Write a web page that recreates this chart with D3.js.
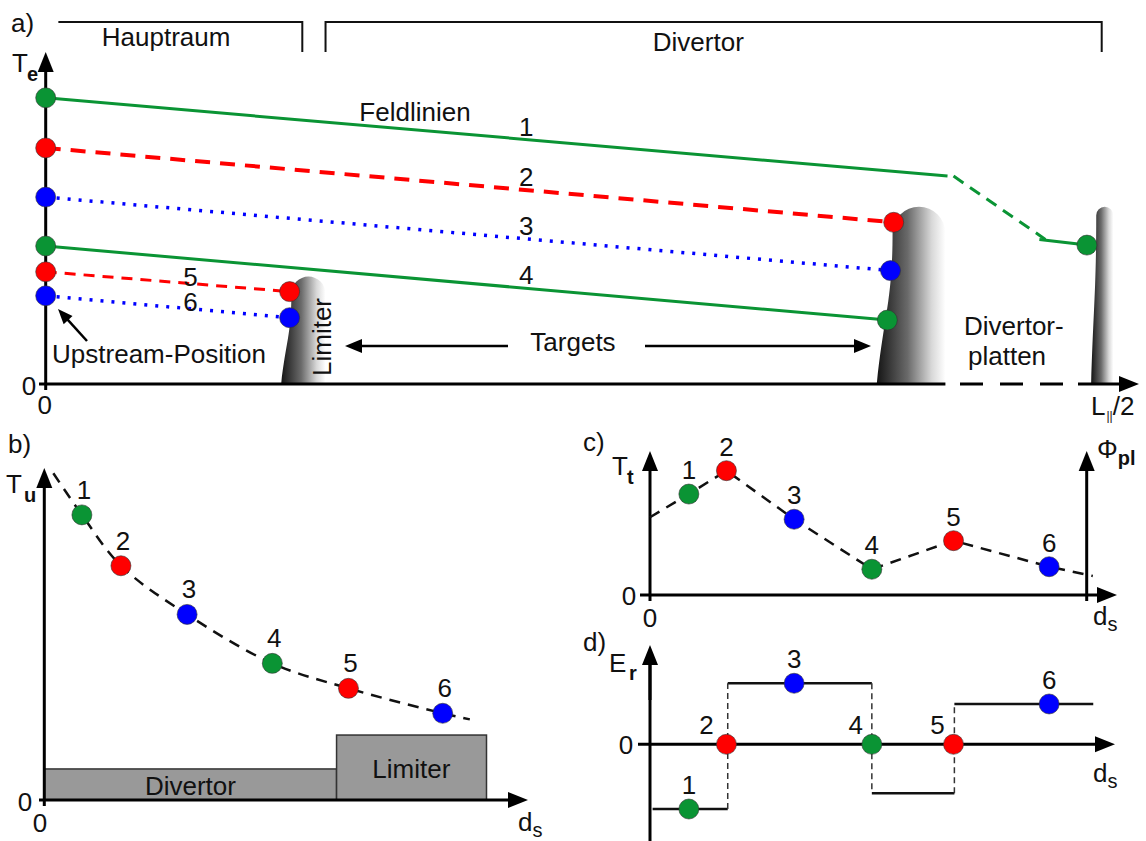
<!DOCTYPE html>
<html>
<head>
<meta charset="utf-8">
<script src="https://cdn.jsdelivr.net/npm/d3@7"></script>
<style>
  body { margin: 0; background: #fff; }
  text { font-family: Arial, "Liberation Sans", sans-serif; fill: #111; }
</style>
</head>
<body>
<svg id="chart" width="1146" height="841"></svg>
<script>
'use strict';

// ---------- data ----------
// a) T_e along the field lines, s = fraction of L||/2
const fieldLineIds = [1, 2, 3, 4, 5, 6];
const fieldLineS = [[0, 0.854], [0, 0.803], [0, 0.800], [0, 0.797], [0, 0.231], [0, 0.231]];
const fieldLineT = [[0.954, 0.693], [0.787, 0.539], [0.623, 0.378], [0.460, 0.213], [0.374, 0.308], [0.294, 0.221]];
// line 1 runs on past the first target to the far divertor plate
const line1TailS = [0.854, 0.941, 0.986];
const line1TailT = [0.693, 0.482, 0.463];
const plateNames = ['Limiter', 'Target', 'Divertorplatte'];
const plateS = [[0.223, 0.265], [0.787, 0.852], [0.990, 1.011]];
const plateTop = [0.358, 0.591, 0.591];

// b) upstream temperature vs. d_s
const bDs = [0.079, 0.161, 0.300, 0.479, 0.639, 0.837];
const bTu = [0.891, 0.732, 0.580, 0.427, 0.349, 0.271];
const bCurveDs = [0.019, 0.079, 0.161, 0.300, 0.479, 0.639, 0.837, 0.894];
const bCurveTu = [1.021, 0.891, 0.732, 0.580, 0.427, 0.349, 0.271, 0.252];
const bRegions = ['Divertor', 'Limiter'];
const bRegionDs = [[0, 0.614], [0.614, 0.929]];
const bRegionH = [0.097, 0.203];

// c) target temperature, d) radial field — shared d_s positions
const cdDs = [0.089, 0.175, 0.330, 0.508, 0.695, 0.914];
const cTt = [0.721, 0.888, 0.541, 0.184, 0.388, 0.202];
const cLineDs = [0, 0.089, 0.175, 0.330, 0.508, 0.695, 0.914, 1.014];
const cLineTt = [0.555, 0.721, 0.888, 0.541, 0.184, 0.388, 0.202, 0.136];
const dEr = [-0.809, 0, 0.763, 0, 0, 0.504];
const dStepDs = [0.006, 0.178, 0.508, 0.697, 1.015];
const dStepEr = [-0.809, 0.763, -0.613, 0.504];

// ---------- styles ----------
const GREEN = '#0a9434', RED = '#ff0000', BLUE = '#0000ff';
const pointColors = [GREEN, RED, BLUE, GREEN, RED, BLUE];
const lineStyles = [
  { color: GREEN, width: 3, dash: null },
  { color: RED, width: 4, dash: '15,10' },
  { color: BLUE, width: 3.5, dash: '3,8' },
  { color: GREEN, width: 3, dash: null },
  { color: RED, width: 3, dash: '11,8' },
  { color: BLUE, width: 3.5, dash: '3,8' }
];
const FS = 26;

const svg = d3.select('#chart');

const defs = svg.append('defs');
const grad = defs.append('linearGradient').attr('id', 'plateGrad')
  .attr('x1', 0).attr('x2', 1).attr('y1', 0).attr('y2', 0);
grad.append('stop').attr('offset', 0).attr('stop-color', '#151515');
grad.append('stop').attr('offset', 0.45).attr('stop-color', '#6a6a6a');
grad.append('stop').attr('offset', 0.8).attr('stop-color', '#d8d8d8');
grad.append('stop').attr('offset', 1).attr('stop-color', '#ffffff');

// line + filled triangular head
function arrow(g, x1, y1, x2, y2, w, len, half) {
  const a = Math.atan2(y2 - y1, x2 - x1);
  const bx = x2 - len * Math.cos(a), by = y2 - len * Math.sin(a);
  g.append('line').attr('x1', x1).attr('y1', y1).attr('x2', bx + Math.cos(a)).attr('y2', by + Math.sin(a))
    .attr('stroke', '#000').attr('stroke-width', w);
  const px = -Math.sin(a) * half, py = Math.cos(a) * half;
  g.append('polygon')
    .attr('points', [[x2, y2], [bx + px, by + py], [bx - px, by - py]].map(p => p.join(',')).join(' '))
    .attr('fill', '#000');
}

function label(g, x, y, txt, opts) {
  opts = opts || {};
  return g.append('text').attr('x', x).attr('y', y)
    .attr('text-anchor', opts.anchor || 'middle')
    .attr('font-size', opts.size || FS)
    .text(txt);
}

// symbol with subscript, e.g. T_e
function symbol(g, x, y, main, sub, subX, subY, bold) {
  label(g, x, y, main, { anchor: 'start' });
  g.append('text').attr('x', subX).attr('y', subY).attr('font-size', 20)
    .attr('font-weight', bold ? 'bold' : 'normal').text(sub);
}

function dsLabel(g, x, y) {
  const t = g.append('text').attr('x', x).attr('y', y).attr('font-size', FS);
  t.append('tspan').text('d');
  t.append('tspan').attr('font-size', 20).attr('dy', 6).text('s');
}

function dot(g, x, y, color) {
  g.append('circle').attr('cx', x).attr('cy', y).attr('r', 10)
    .attr('fill', color).attr('stroke', '#333').attr('stroke-width', 0.6);
}

// ================= a) =================
const ga = svg.append('g');
const xA = d3.scaleLinear().domain([0, 1]).range([45.7, 1101.7]);
const yA = d3.scaleLinear().domain([0, 1]).range([384, 84]);

label(ga, 11, 32, 'a)', { anchor: 'start' });

// region brackets
ga.append('path').attr('d', `M${xA(0.012)},22 H${xA(0.243)} V52`)
  .attr('fill', 'none').attr('stroke', '#111').attr('stroke-width', 2);
ga.append('path').attr('d', `M${xA(0.265)},52 V22 H${xA(1)} V52`)
  .attr('fill', 'none').attr('stroke', '#111').attr('stroke-width', 2);
label(ga, xA(0.114), 46, 'Hauptraum');
label(ga, xA(0.618), 51, 'Divertor');

// limiter / target plates
plateNames.forEach((name, i) => {
  const x0 = xA(plateS[i][0]), x1 = xA(plateS[i][1]);
  const yb = yA(0), yt = yA(plateTop[i]);
  const w = x1 - x0;
  const lx = x0 + 0.23 * w, r = (x1 - lx) / 2;
  const H = yb - (yt + r);
  const d = `M${x0},${yb} C${x0 + 0.1 * w},${yb - 0.45 * H} ${lx},${yt + r + 0.45 * H} ${lx},${yt + r}` +
    ` A${r},${r} 0 0 1 ${x1},${yt + r} L${x1},${yb} Z`;
  ga.append('path').attr('d', d).attr('fill', 'url(#plateGrad)');
});

// axes
const a0 = yA(0);
ga.append('line').attr('x1', 39).attr('y1', a0).attr('x2', xA(0.852)).attr('y2', a0)
  .attr('stroke', '#000').attr('stroke-width', 3);
ga.append('line').attr('x1', 960).attr('y1', a0).attr('x2', 1066).attr('y2', a0)
  .attr('stroke', '#000').attr('stroke-width', 3).attr('stroke-dasharray', '23,17');
arrow(ga, 1078, a0, 1139, a0, 3, 20, 8);
arrow(ga, xA(0), a0 + 6, xA(0), 52, 3, 20, 8);
label(ga, 29, a0 + 11, '0');
label(ga, xA(0) - 1, a0 + 30, '0');
symbol(ga, 12, 72, 'T', 'e', 27, 81, true);
const lt = ga.append('text').attr('x', 1091).attr('y', 415).attr('font-size', FS);
lt.append('tspan').text('L');
lt.append('tspan').attr('font-size', 12).attr('dy', 5).attr('dx', 1).text('||');
lt.append('tspan').attr('dy', -5).text('/2');

// field lines
fieldLineIds.forEach((id, i) => {
  const st = lineStyles[i];
  const pts = fieldLineS[i].map((s, k) => [xA(s), yA(fieldLineT[i][k])]);
  ga.append('path').attr('d', d3.line()(pts))
    .attr('fill', 'none').attr('stroke', st.color).attr('stroke-width', st.width)
    .attr('stroke-dasharray', st.dash);
});
// tail of line 1 (dashed bend, then solid to the far plate)
ga.append('path').attr('d', d3.line()(line1TailS.slice(0, 2).map((s, k) => [xA(s) + 6, yA(line1TailT[k])])))
  .attr('fill', 'none').attr('stroke', GREEN).attr('stroke-width', 3).attr('stroke-dasharray', '12,8');
ga.append('path').attr('d', d3.line()(line1TailS.slice(1).map((s, k) => [xA(s), yA(line1TailT[k + 1])])))
  .attr('fill', 'none').attr('stroke', GREEN).attr('stroke-width', 3);

// line numbers
fieldLineIds.forEach((id, i) => {
  const s = i < 4 ? 0.455 : 0.137;
  const [s0, s1] = fieldLineS[i], [t0, t1] = fieldLineT[i];
  const t = t0 + (t1 - t0) * (s - s0) / (s1 - s0);
  label(ga, xA(s), yA(t) + (i < 4 ? -4 : 2), id);
});
label(ga, 415, 121, 'Feldlinien');

// dots
fieldLineIds.forEach((id, i) => {
  dot(ga, xA(fieldLineS[i][0]), yA(fieldLineT[i][0]), pointColors[i]);
  if (i === 0) dot(ga, xA(line1TailS[2]), yA(line1TailT[2]), pointColors[i]);
  else dot(ga, xA(fieldLineS[i][1]), yA(fieldLineT[i][1]), pointColors[i]);
});

// annotations
arrow(ga, 87, 341, 58, 309, 2.5, 15, 6);
label(ga, 159, 363, 'Upstream-Position');
ga.append('text').attr('font-size', FS).attr('text-anchor', 'middle')
  .attr('transform', 'translate(331,337) rotate(-90)').text('Limiter');
label(ga, 573, 351, 'Targets');
arrow(ga, 508, 346, 345, 346, 2.5, 17, 7);
arrow(ga, 645, 346, 871, 346, 2.5, 17, 7);
label(ga, 964, 335, 'Divertor-', { anchor: 'start' });
label(ga, 968, 365, 'platten', { anchor: 'start' });

// ================= b) =================
const gb = svg.append('g');
const xB = d3.scaleLinear().domain([0, 1]).range([44.3, 520.3]);
const yB = d3.scaleLinear().domain([0, 1]).range([800, 480]);

label(gb, 8, 453, 'b)', { anchor: 'start' });
bRegions.forEach((name, i) => {
  const x0 = xB(bRegionDs[i][0]), x1 = xB(bRegionDs[i][1]);
  gb.append('rect').attr('x', x0).attr('y', yB(bRegionH[i]))
    .attr('width', x1 - x0).attr('height', yB(0) - yB(bRegionH[i]))
    .attr('fill', '#999').attr('stroke', '#333').attr('stroke-width', 1.5);
});
label(gb, xB(0.307), 795, 'Divertor');
label(gb, xB(0.771), 778, 'Limiter');

arrow(gb, 39, yB(0), 528, yB(0), 3, 20, 8);
arrow(gb, xB(0), yB(0) + 6, xB(0), 468, 3, 20, 8);
label(gb, 25, 811, '0');
label(gb, 40, 832, '0');
symbol(gb, 6, 493, 'T', 'u', 24, 502, true);
dsLabel(gb, 518, 831);

gb.append('path')
  .attr('d', d3.line().curve(d3.curveCatmullRom)(bCurveDs.map((s, k) => [xB(s), yB(bCurveTu[k])])))
  .attr('fill', 'none').attr('stroke', '#111').attr('stroke-width', 2.5).attr('stroke-dasharray', '11,8');
bDs.forEach((s, i) => {
  dot(gb, xB(s), yB(bTu[i]), pointColors[i]);
  label(gb, xB(s) + 2, yB(bTu[i]) - 16, i + 1);
});

// ================= c) =================
const gc = svg.append('g');
const xC = d3.scaleLinear().domain([0, 1]).range([650, 1086.7]);
const yC = d3.scaleLinear().domain([0, 1]).range([595, 455]);

label(gc, 583, 451, 'c)', { anchor: 'start' });
arrow(gc, 640, yC(0), 1117, yC(0), 3, 20, 8);
arrow(gc, xC(0), yC(0) + 6, xC(0), 451, 3, 20, 8);
arrow(gc, xC(1), 601, xC(1), 451, 3, 20, 8);
label(gc, 629, 605, '0');
label(gc, 650, 627, '0');
symbol(gc, 612, 475, 'T', 't', 627, 484, true);
const phi = gc.append('text').attr('x', 1097).attr('y', 458).attr('font-size', FS);
phi.append('tspan').text('\u03A6');
phi.append('tspan').attr('font-size', 20).attr('font-weight', 'bold').attr('dy', 7).text('pl');
dsLabel(gc, 1093, 625);

gc.append('path')
  .attr('d', d3.line()(cLineDs.map((s, k) => [xC(s), yC(cLineTt[k])])))
  .attr('fill', 'none').attr('stroke', '#111').attr('stroke-width', 2.5).attr('stroke-dasharray', '11,8');
cdDs.forEach((s, i) => {
  dot(gc, xC(s), yC(cTt[i]), pointColors[i]);
  label(gc, xC(s), yC(cTt[i]) - 15, i + 1);
});

// ================= d) =================
const gd = svg.append('g');
const yD = d3.scaleLinear().domain([-1, 1]).range([824.3, 664.3]);

label(gd, 583, 651, 'd)', { anchor: 'start' });
symbol(gd, 609, 672, 'E', 'r', 629, 680, true);
arrow(gd, 638, yD(0), 1115, yD(0), 3, 20, 8);
gd.append('line').attr('x1', xC(0)).attr('y1', 841).attr('x2', xC(0)).attr('y2', 662)
  .attr('stroke', '#000').attr('stroke-width', 3);
arrow(gd, xC(0), 700, xC(0), 645, 3, 20, 8);
label(gd, 626, 754, '0');
dsLabel(gd, 1093, 782);

// step levels and dashed risers
dStepEr.forEach((e, k) => {
  gd.append('line').attr('x1', xC(dStepDs[k])).attr('x2', xC(dStepDs[k + 1]))
    .attr('y1', yD(e)).attr('y2', yD(e)).attr('stroke', '#111').attr('stroke-width', 2.5);
  if (k > 0) {
    gd.append('line').attr('x1', xC(dStepDs[k])).attr('x2', xC(dStepDs[k]))
      .attr('y1', yD(dStepEr[k - 1])).attr('y2', yD(e))
      .attr('stroke', '#333').attr('stroke-width', 1.5).attr('stroke-dasharray', '6,4');
  }
});
const dLabelDx = [0, -20, 0, -16, -16, 0];
cdDs.forEach((s, i) => {
  dot(gd, xC(s), yD(dEr[i]), pointColors[i]);
  label(gd, xC(s) + dLabelDx[i], yD(dEr[i]) - (dEr[i] === 0 ? 10 : 15), i + 1);
});
</script>
</body>
</html>
